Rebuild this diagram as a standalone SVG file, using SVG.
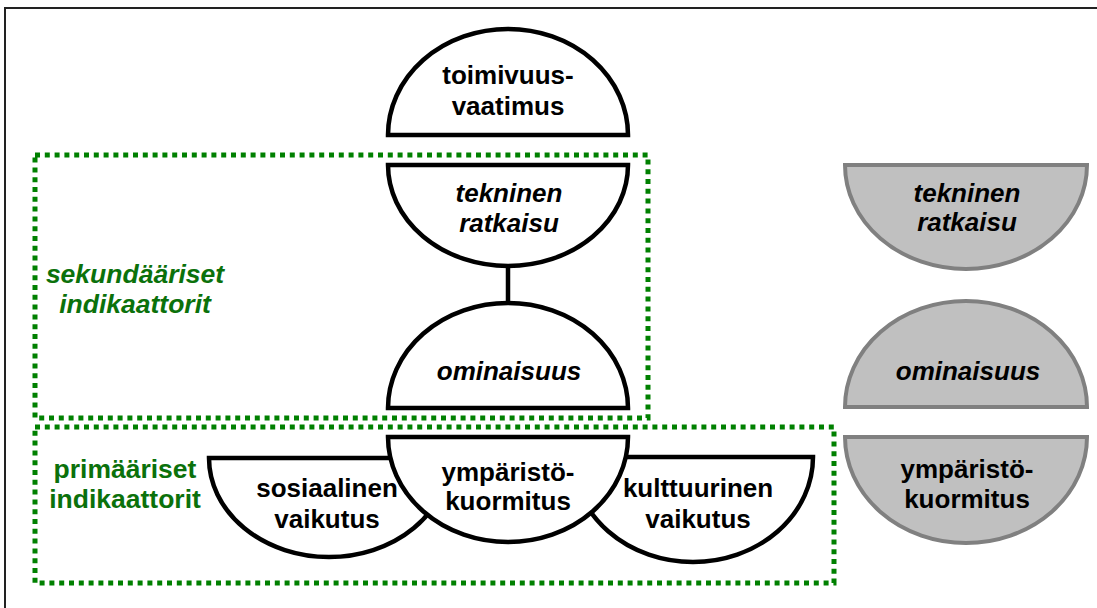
<svg xmlns="http://www.w3.org/2000/svg" width="1097" height="608" viewBox="0 0 1097 608">
  <style>
    .frame { fill: none; stroke: #222; stroke-width: 2; }
    .node { fill: #fff; stroke: #000; stroke-width: 4.5; stroke-linejoin: miter; }
    .ghost { fill: #c0c0c0; stroke: #808080; stroke-width: 4; }
    .lbl { font-family: "Liberation Sans", Arial, sans-serif; font-weight: bold; font-size: 26px; fill: #000; text-anchor: middle; }
    .it { font-style: italic; }
    .group { fill: none; stroke: #008000; stroke-width: 5; stroke-dasharray: 5 4.8; }
    .glbl { font-family: "Liberation Sans", Arial, sans-serif; font-weight: bold; font-size: 26.5px; fill: #0b710b; text-anchor: middle; }
    .link { stroke: #000; stroke-width: 4.5; fill: none; }
  </style>

  <rect class="frame" x="5" y="8" width="1100" height="610"/>

  <!-- indicator groupings -->
  <g id="secondary-group">
    <rect class="group" x="35" y="155" width="613" height="263"/>
    <text class="glbl it" x="135" y="283">sekundääriset</text>
    <text class="glbl it" x="135" y="313">indikaattorit</text>
  </g>
  <g id="primary-group">
    <rect class="group" x="35" y="427" width="799" height="156"/>
    <text class="glbl" x="125" y="478">primääriset</text>
    <text class="glbl" x="125" y="508">indikaattorit</text>
  </g>

  <!-- connectors -->
  <g id="connectors">
    <line class="link" x1="508" y1="266" x2="508" y2="303"/>
  </g>

  <g id="toimivuusvaatimus">
    <path class="node" d="M388,135 A120,106 0 0 1 628,135 Z"/>
    <text class="lbl" x="508" y="84">toimivuus-</text>
    <text class="lbl" x="508" y="115">vaatimus</text>
  </g>

  <g id="tekninen-ratkaisu">
    <path class="node" d="M388,165 A120,101 0 0 0 628,165 Z"/>
    <text class="lbl it" x="509" y="202">tekninen</text>
    <text class="lbl it" x="509" y="232">ratkaisu</text>
  </g>

  <g id="ominaisuus">
    <path class="node" d="M388,408 A120,105 0 0 1 628,408 Z"/>
    <text class="lbl it" x="509" y="380">ominaisuus</text>
  </g>

  <g id="sosiaalinen-vaikutus">
    <path class="node" d="M209,458 A120,99 0 0 0 449,458 Z"/>
    <text class="lbl" x="327" y="497">sosiaalinen</text>
    <text class="lbl" x="327" y="528">vaikutus</text>
  </g>

  <g id="kulttuurinen-vaikutus">
    <path class="node" d="M573,457 A120,105 0 0 0 813,457 Z"/>
    <text class="lbl" x="698" y="497">kulttuurinen</text>
    <text class="lbl" x="698" y="528">vaikutus</text>
  </g>

  <g id="ymparistokuormitus">
    <path class="node" d="M388,437 A120,105 0 0 0 628,437 Z"/>
    <text class="lbl" x="508" y="481">ympäristö-</text>
    <text class="lbl" x="508" y="510">kuormitus</text>
  </g>

  <!-- reference chain in grey -->
  <g id="tekninen-ratkaisu-ref">
    <path class="ghost" d="M845,165 A121,104 0 0 0 1087,165 Z"/>
    <text class="lbl it" x="967" y="202">tekninen</text>
    <text class="lbl it" x="967" y="231">ratkaisu</text>
  </g>

  <g id="ominaisuus-ref">
    <path class="ghost" d="M845,407 A121,106 0 0 1 1087,407 Z"/>
    <text class="lbl it" x="968" y="380">ominaisuus</text>
  </g>

  <g id="ymparistokuormitus-ref">
    <path class="ghost" d="M845,437 A121,106 0 0 0 1087,437 Z"/>
    <text class="lbl" x="967" y="478">ympäristö-</text>
    <text class="lbl" x="967" y="508">kuormitus</text>
  </g>
</svg>
